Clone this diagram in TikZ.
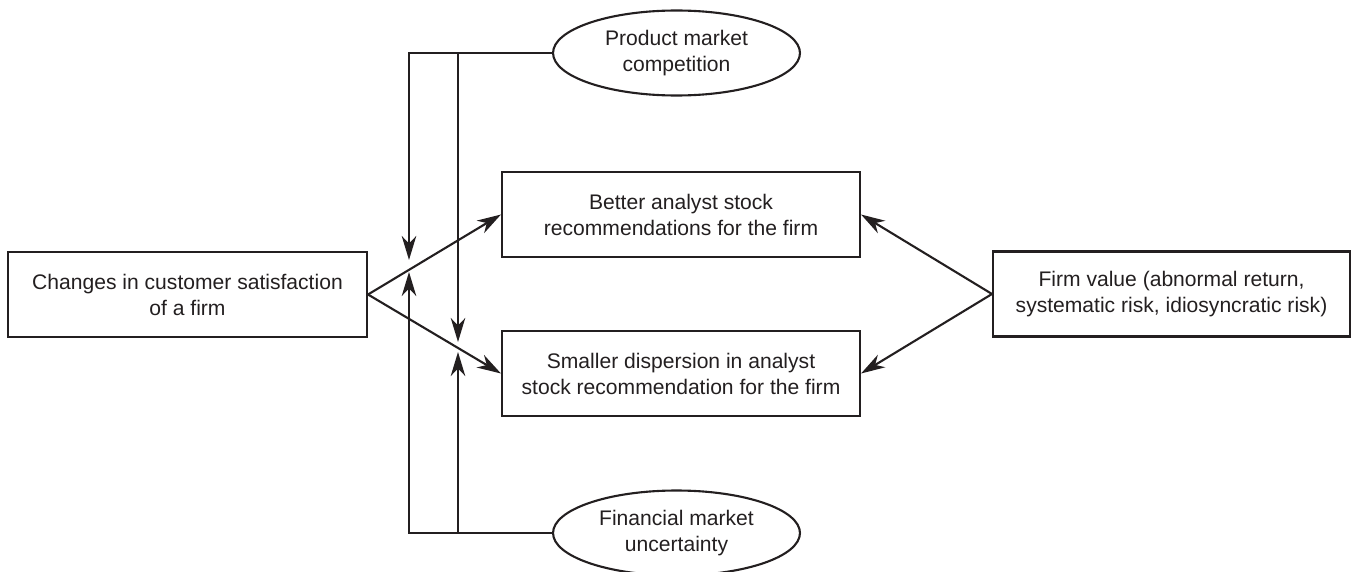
\documentclass[tikz,border=0pt]{standalone}
\usepackage{fontspec}
\setmainfont{Liberation Sans}
\usepackage{tikz}
\usetikzlibrary{arrows.meta,shapes.geometric}
\definecolor{ink}{HTML}{231F20}

\begin{document}
\begin{tikzpicture}[x=0.02cm, y=-0.02cm, color=ink, line width=1.2pt,
      arr/.style={-{Stealth[length=4.8mm,width=2.9mm,inset=1.5mm]}},
      every node/.append style={font=\fontsize{12}{14.8}\selectfont,align=center},
      box/.style={draw,rectangle,minimum width=7.16cm,minimum height=1.7cm,inner sep=0pt},
      oval/.style={draw,ellipse,minimum width=4.94cm,minimum height=1.7cm,inner sep=0pt}]
    \useasboundingbox (0,0) rectangle (1351,571);
    \node (cust) [box,minimum width=7.18cm] at (187.5,294.5) {Changes in customer satisfaction\\of a firm};
    \node (better) [box] at (681,214.5) {Better analyst stock\\recommendations for the firm};
    \node (smaller) [box] at (681,373.5) {Smaller dispersion in analyst\\stock recommendation for the firm};
    \node (firm) [box,minimum width=7.14cm] at (1171.5,294) {Firm value (abnormal return,\\systematic risk, idiosyncratic risk)};
    \node (product) [oval] at (676.5,53) {Product market\\competition};
    \node (financial) [oval] at (676.5,533) {Financial market\\uncertainty};
    % arrow tips of the moderators
    \coordinate (tipA) at (409,260);
    \coordinate (tipB) at (458,342);
    \coordinate (tipC) at (409,272);
    \coordinate (tipD) at (458,352);
    \draw[arr] (cust.east) -- (better.west);
    \draw[arr] (cust.east) -- (smaller.west);
    \draw[arr] (firm.west) -- (better.east);
    \draw[arr] (firm.west) -- (smaller.east);
    \draw[arr] (product.west) -| (tipA);
    \draw[arr] (product.west -| tipB) -- (tipB);
    \draw[arr] (financial.west) -| (tipC);
    \draw[arr] (financial.west -| tipD) -- (tipD);
  \end{tikzpicture}
\end{document}
